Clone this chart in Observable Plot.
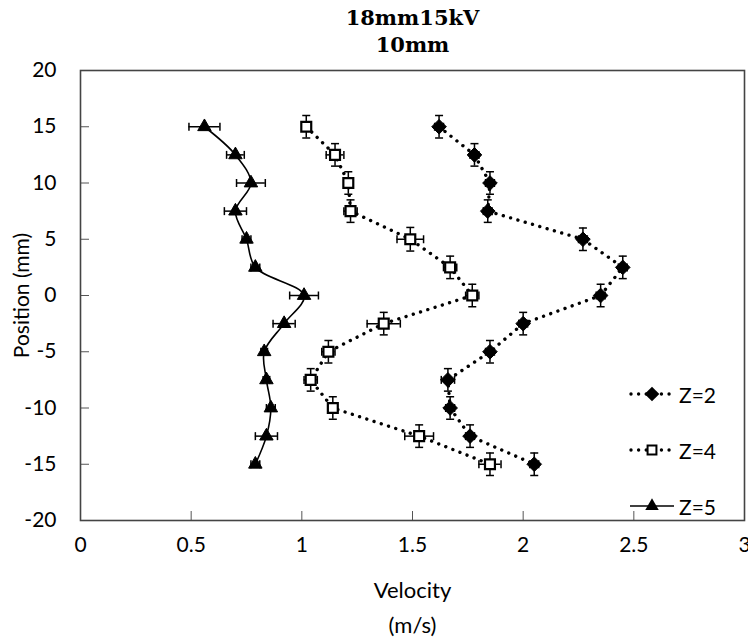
<!DOCTYPE html>
<html>
<head>
<meta charset="utf-8">
<script src="https://cdn.jsdelivr.net/npm/d3@7"></script>
<script src="https://cdn.jsdelivr.net/npm/@observablehq/plot@0.6"></script>
<style>
  html, body { margin: 0; padding: 0; background: #fff; }
  #wrap { position: relative; width: 748px; height: 637px; font-family: Lato, "Open Sans", sans-serif; }
  #legend { position: absolute; left: 628px; top: 380px; }
  .item { display: flex; align-items: center; height: 28px; margin-bottom: 28px; font-size: 21px; color: #000; }
  .item svg { margin-right: 3px; }
</style>
</head>
<body>
<div id="wrap"></div>
<script>
// ---- data ----
const titleLines = ["18mm15kV", "10mm"];
const xLabelLines = ["Velocity", "(m/s)"];
const yLabel = "Position (mm)";
const xTicks = [0, 0.5, 1, 1.5, 2, 2.5, 3];
const yTicks = [-20, -15, -10, -5, 0, 5, 10, 15, 20];
const seriesNames = ["Z=2", "Z=4", "Z=5"];

const positions = [15, 12.5, 10, 7.5, 5, 2.5, 0, -2.5, -5, -7.5, -10, -12.5, -15];

const z2Vel  = [1.62, 1.78, 1.85, 1.84, 2.27, 2.45, 2.35, 2.00, 1.85, 1.66, 1.67, 1.76, 2.05];
const z2XErr = [0.02, 0.02, 0.02, 0.02, 0.02, 0.02, 0.02, 0.02, 0.02, 0.03, 0.02, 0.02, 0.02];
const z2YErr = [1, 1, 1, 1, 1, 1, 1, 1, 1, 1, 1, 1, 1];

const z4Vel  = [1.02, 1.15, 1.21, 1.22, 1.49, 1.67, 1.77, 1.37, 1.12, 1.04, 1.14, 1.53, 1.85];
const z4XErr = [0.01, 0.04, 0.02, 0.03, 0.06, 0.03, 0.03, 0.075, 0.03, 0.03, 0.02, 0.065, 0.05];
const z4YErr = [1, 1, 1, 1, 1.05, 1, 1, 1, 1, 1, 1, 1, 1];

const z5Vel  = [0.56, 0.70, 0.77, 0.70, 0.75, 0.79, 1.01, 0.92, 0.83, 0.84, 0.86, 0.84, 0.79];
const z5XErr = [0.07, 0.04, 0.065, 0.05, 0.02, 0.02, 0.065, 0.05, 0.015, 0.015, 0.02, 0.05, 0.02];
const z5YErr = [0, 0, 0, 0, 0, 0, 0, 0, 0, 0, 0, 0, 0];

// ---- build tables ----
const mk = (vel, xe, ye) => positions.map((p, i) => ({pos: p, vel: vel[i], xe: xe[i], ye: ye[i]}));
const z2 = mk(z2Vel, z2XErr, z2YErr);
const z4 = mk(z4Vel, z4XErr, z4YErr);
const z5 = mk(z5Vel, z5XErr, z5YErr);
const all = [...z2, ...z4, ...z5];
const withY = [...z2, ...z4];

const vCap = {draw(ctx) { ctx.moveTo(0, -4); ctx.lineTo(0, 4); }};
const hCap = {draw(ctx) { ctx.moveTo(-4, 0); ctx.lineTo(4, 0); }};

const dotted = {stroke: "black", strokeWidth: 3.4, strokeDasharray: "0.01,7.6", strokeLinecap: "round"};
const fmt = d => String(d);

const chart = Plot.plot({
  width: 748,
  height: 637,
  marginLeft: 80,
  marginRight: 4,
  marginTop: 70,
  marginBottom: 117,
  style: {fontFamily: "Lato, 'Open Sans', sans-serif", fontSize: "21px", color: "black", background: "white", overflow: "visible"},
  x: {domain: [0, 3]},
  y: {domain: [-20, 20]},
  marks: [
    // lines
    Plot.line(z2, {x: "vel", y: "pos", ...dotted}),
    Plot.line(z4, {x: "vel", y: "pos", ...dotted}),
    Plot.line(z5, {x: "vel", y: "pos", stroke: "black", strokeWidth: 1.6, curve: "catmull-rom"}),
    // error bars (horizontal)
    Plot.ruleY(all, {y: "pos", x1: d => d.vel - d.xe, x2: d => d.vel + d.xe, stroke: "black", strokeWidth: 1.5}),
    Plot.dot(all, {x: d => d.vel - d.xe, y: "pos", symbol: vCap, stroke: "black", fill: "none", strokeWidth: 1.5}),
    Plot.dot(all, {x: d => d.vel + d.xe, y: "pos", symbol: vCap, stroke: "black", fill: "none", strokeWidth: 1.5}),
    // error bars (vertical)
    Plot.ruleX(withY, {x: "vel", y1: d => d.pos - d.ye, y2: d => d.pos + d.ye, stroke: "black", strokeWidth: 1.5}),
    Plot.dot(withY, {x: "vel", y: d => d.pos - d.ye, symbol: hCap, stroke: "black", fill: "none", strokeWidth: 1.5}),
    Plot.dot(withY, {x: "vel", y: d => d.pos + d.ye, symbol: hCap, stroke: "black", fill: "none", strokeWidth: 1.5}),
    // markers
    Plot.dot(z2, {x: "vel", y: "pos", symbol: "diamond2", r: 6.6, fill: "black", stroke: "black", strokeWidth: 1}),
    Plot.dot(z4, {x: "vel", y: "pos", symbol: "square", r: 5.6, fill: "white", stroke: "black", strokeWidth: 2.2}),
    Plot.dot(z5, {x: "vel", y: "pos", symbol: "triangle", r: 5, fill: "black", stroke: "black", strokeWidth: 1}),
    // axes
    Plot.axisX(xTicks, {tickSize: 0, tickPadding: 17, label: null, tickFormat: fmt}),
    Plot.axisX(xTicks, {tickSize: -9, tickFormat: () => "", label: null, stroke: "#555"}),
    Plot.axisY(yTicks, {tickSize: 0, tickPadding: 24, label: null, tickFormat: fmt}),
    Plot.axisY(yTicks, {tickSize: -9, tickFormat: () => "", label: null, stroke: "#555"}),
    Plot.frame({stroke: "#444", strokeWidth: 1.6}),
    // titles & labels
    Plot.text([titleLines[0]], {text: d => d, frameAnchor: "top", lineAnchor: "middle", dy: -52, fontFamily: "'DejaVu Serif', serif", fontWeight: "bold", fontSize: 21}),
    Plot.text([titleLines[1]], {text: d => d, frameAnchor: "top", lineAnchor: "middle", dy: -25, fontFamily: "'DejaVu Serif', serif", fontWeight: "bold", fontSize: 21}),
    Plot.text([xLabelLines[0]], {text: d => d, frameAnchor: "bottom", lineAnchor: "middle", dy: 70, fontSize: 22}),
    Plot.text([xLabelLines[1]], {text: d => d, frameAnchor: "bottom", lineAnchor: "middle", dy: 105, fontSize: 22}),
    Plot.text([yLabel], {text: d => d, frameAnchor: "left", textAnchor: "middle", lineAnchor: "middle", dx: -58, rotate: -90, fontSize: 21})
  ]
});

const wrap = document.getElementById("wrap");
wrap.appendChild(chart);

// legend
const legend = document.createElement("div");
legend.id = "legend";
const sample = (name) => {
  const s = d3.create("svg").attr("width", 48).attr("height", 20);
  if (name === "Z=5") {
    s.append("line").attr("x1", 2).attr("x2", 46).attr("y1", 10).attr("y2", 10).attr("stroke", "black").attr("stroke-width", 1.6);
    s.append("path").attr("d", d3.symbol(d3.symbolTriangle, Math.PI * 5 * 5)()).attr("transform", "translate(24,10)").attr("fill", "black");
  } else {
    s.append("line").attr("x1", 3).attr("x2", 46).attr("y1", 10).attr("y2", 10).attr("stroke", "black").attr("stroke-width", 3.4).attr("stroke-dasharray", "0.01,7.6").attr("stroke-linecap", "round");
    if (name === "Z=2") {
      s.append("path").attr("d", d3.symbol(d3.symbolDiamond2, Math.PI * 6.6 * 6.6)()).attr("transform", "translate(24,10)").attr("fill", "black");
    } else {
      s.append("path").attr("d", d3.symbol(d3.symbolSquare, Math.PI * 5.0 * 5.0)()).attr("transform", "translate(24,10)").attr("fill", "white").attr("stroke", "black").attr("stroke-width", 2);
    }
  }
  return s.node();
};
for (const name of seriesNames) {
  const item = document.createElement("div");
  item.className = "item";
  item.appendChild(sample(name));
  const t = document.createElement("span");
  t.textContent = name;
  item.appendChild(t);
  legend.appendChild(item);
}
wrap.appendChild(legend);
</script>
</body>
</html>
